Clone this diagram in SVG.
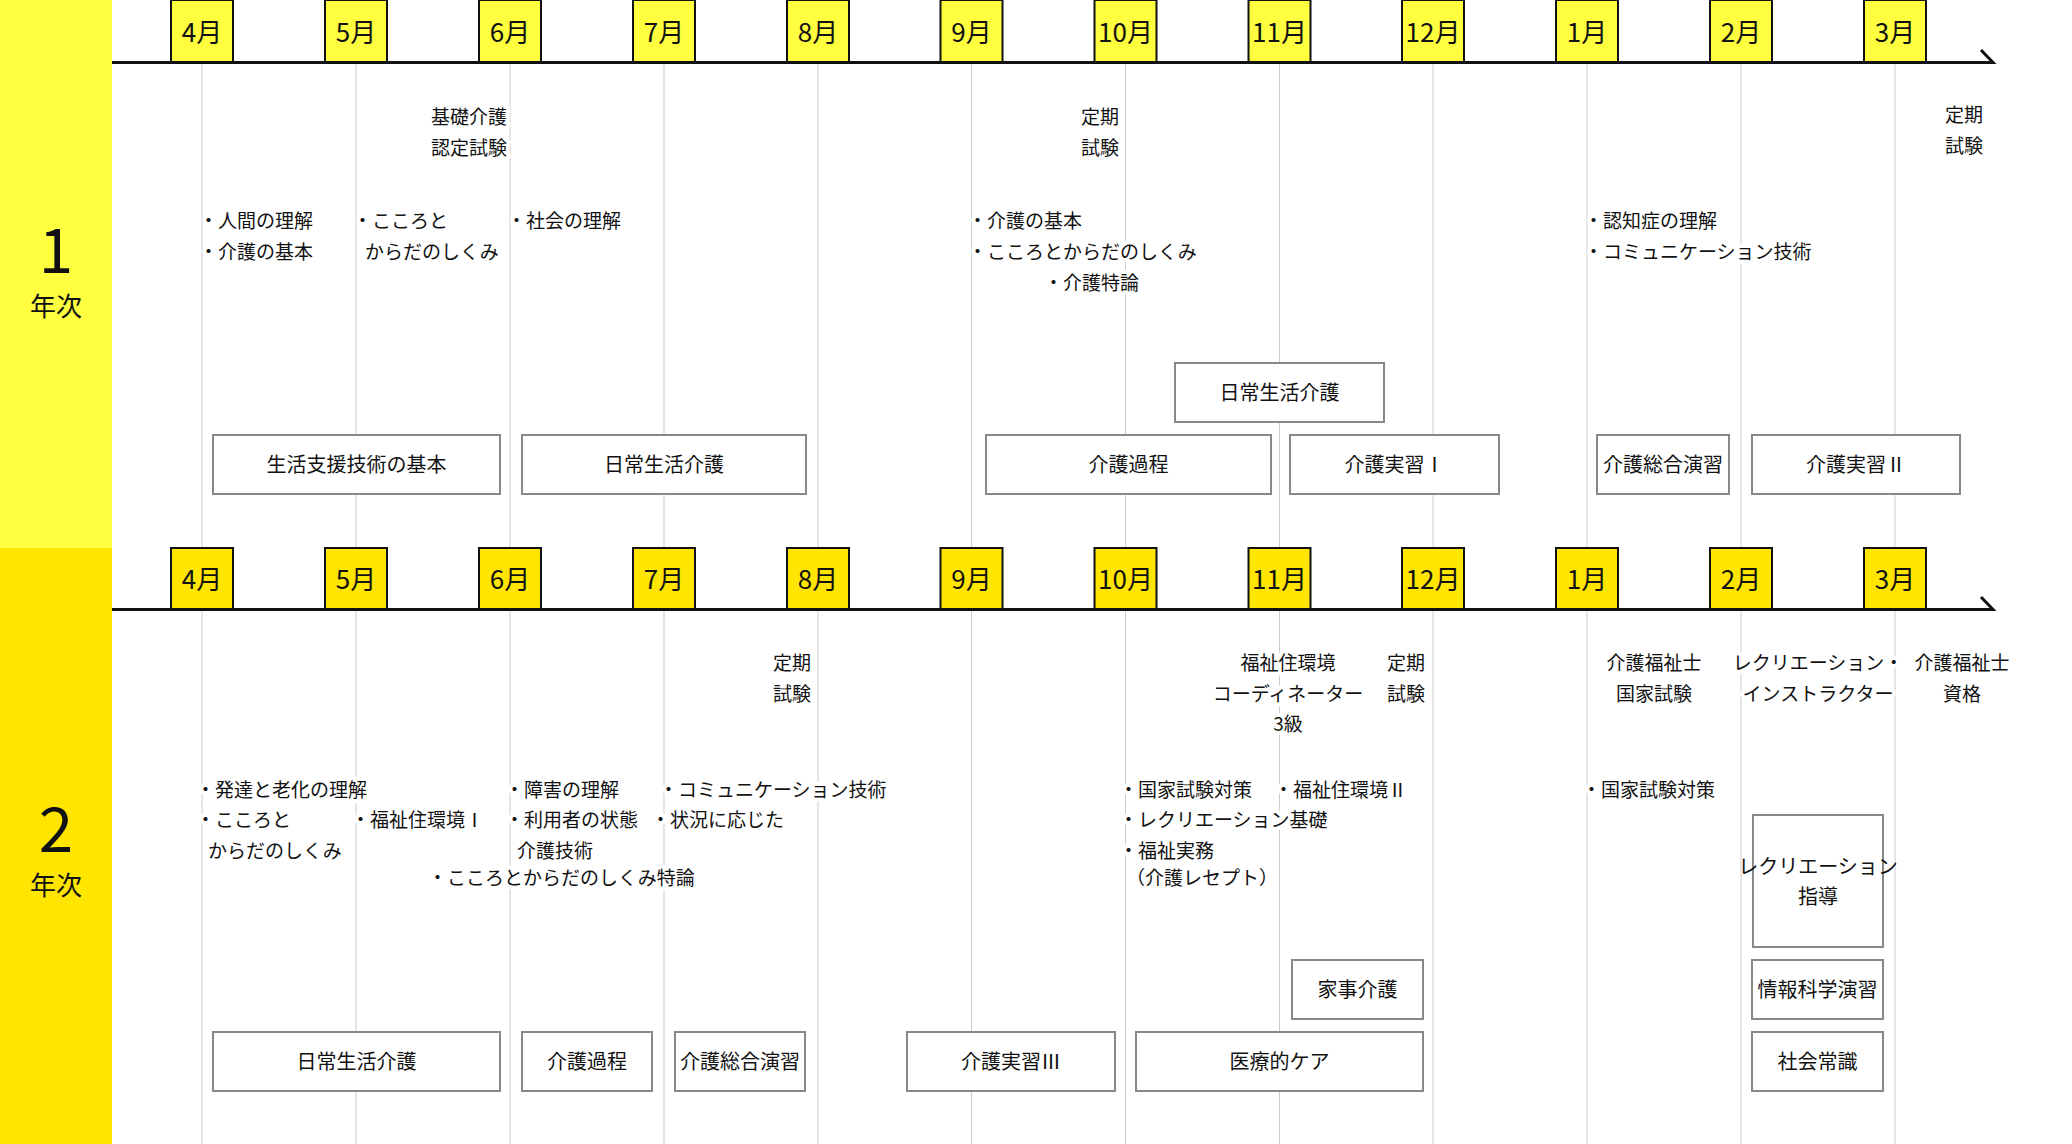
<svg xmlns="http://www.w3.org/2000/svg" width="2072" height="1144" viewBox="0 0 2072 1144">
<style>
text{font-family:"Noto Sans CJK JP","Noto Sans",sans-serif;fill:#111}
.t{font-size:19px;stroke:#fff;stroke-width:8px;paint-order:stroke;stroke-linejoin:round}
.c{text-anchor:middle}
.e{text-anchor:end}
.m{font-size:26px;text-anchor:middle}
.b{fill:#fff;stroke:#888;stroke-width:2}
.bl{font-size:20px;text-anchor:middle;stroke:none}
.v{stroke:#ccc;stroke-width:1}
.mb1{fill:#FFFF40;stroke:#111;stroke-width:2}
.mb2{fill:#FFE500;stroke:#111;stroke-width:2}
.ax{stroke:#111;stroke-width:3;fill:none}
</style>
<rect x="0" y="0" width="2072" height="1144" fill="#fff"/>
<rect x="0" y="0" width="112" height="548" fill="#FFFF40"/>
<rect x="0" y="548" width="112" height="596" fill="#FFE500"/>
<g id="year1-label"><text x="56" y="273" font-size="62" text-anchor="middle">1</text><text x="56" y="316" font-size="26" text-anchor="middle">年次</text></g>
<g id="year2-label"><text x="56" y="852" font-size="62" text-anchor="middle">2</text><text x="56" y="895" font-size="26" text-anchor="middle">年次</text></g>
<g id="connectors">
<g class="v">
<line x1="202" y1="63" x2="202" y2="548"/><line x1="356" y1="63" x2="356" y2="548"/><line x1="510" y1="63" x2="510" y2="548"/><line x1="664" y1="63" x2="664" y2="548"/><line x1="818" y1="63" x2="818" y2="548"/><line x1="971.5" y1="63" x2="971.5" y2="548"/><line x1="1125.5" y1="63" x2="1125.5" y2="548"/><line x1="1279.5" y1="63" x2="1279.5" y2="548"/><line x1="1433" y1="63" x2="1433" y2="548"/><line x1="1587" y1="63" x2="1587" y2="548"/><line x1="1741" y1="63" x2="1741" y2="548"/><line x1="1895" y1="63" x2="1895" y2="548"/>
<line x1="202" y1="610" x2="202" y2="1144"/><line x1="356" y1="610" x2="356" y2="1144"/><line x1="510" y1="610" x2="510" y2="1144"/><line x1="664" y1="610" x2="664" y2="1144"/><line x1="818" y1="610" x2="818" y2="1144"/><line x1="971.5" y1="610" x2="971.5" y2="1144"/><line x1="1125.5" y1="610" x2="1125.5" y2="1144"/><line x1="1279.5" y1="610" x2="1279.5" y2="1144"/><line x1="1433" y1="610" x2="1433" y2="1144"/><line x1="1587" y1="610" x2="1587" y2="1144"/><line x1="1741" y1="610" x2="1741" y2="1144"/><line x1="1895" y1="610" x2="1895" y2="1144"/>
</g>
<path class="ax" d="M112 62.5 H1993 L1981 50"/>
<path class="ax" d="M112 609.5 H1993 L1981 597"/>
</g>
<g id="months1">
<rect class="mb1" x="171" y="0" width="62" height="62"/><text class="m" x="202" y="42">4月</text>
<rect class="mb1" x="325" y="0" width="62" height="62"/><text class="m" x="356" y="42">5月</text>
<rect class="mb1" x="479" y="0" width="62" height="62"/><text class="m" x="510" y="42">6月</text>
<rect class="mb1" x="633" y="0" width="62" height="62"/><text class="m" x="664" y="42">7月</text>
<rect class="mb1" x="787" y="0" width="62" height="62"/><text class="m" x="818" y="42">8月</text>
<rect class="mb1" x="940.5" y="0" width="62" height="62"/><text class="m" x="971.5" y="42">9月</text>
<rect class="mb1" x="1094.5" y="0" width="62" height="62"/><text class="m" x="1125.5" y="42">10月</text>
<rect class="mb1" x="1248.5" y="0" width="62" height="62"/><text class="m" x="1279.5" y="42">11月</text>
<rect class="mb1" x="1402" y="0" width="62" height="62"/><text class="m" x="1433" y="42">12月</text>
<rect class="mb1" x="1556" y="0" width="62" height="62"/><text class="m" x="1587" y="42">1月</text>
<rect class="mb1" x="1710" y="0" width="62" height="62"/><text class="m" x="1741" y="42">2月</text>
<rect class="mb1" x="1864" y="0" width="62" height="62"/><text class="m" x="1895" y="42">3月</text>
</g>
<g id="months2">
<rect class="mb2" x="171" y="548" width="62" height="61"/><text class="m" x="202" y="589">4月</text>
<rect class="mb2" x="325" y="548" width="62" height="61"/><text class="m" x="356" y="589">5月</text>
<rect class="mb2" x="479" y="548" width="62" height="61"/><text class="m" x="510" y="589">6月</text>
<rect class="mb2" x="633" y="548" width="62" height="61"/><text class="m" x="664" y="589">7月</text>
<rect class="mb2" x="787" y="548" width="62" height="61"/><text class="m" x="818" y="589">8月</text>
<rect class="mb2" x="940.5" y="548" width="62" height="61"/><text class="m" x="971.5" y="589">9月</text>
<rect class="mb2" x="1094.5" y="548" width="62" height="61"/><text class="m" x="1125.5" y="589">10月</text>
<rect class="mb2" x="1248.5" y="548" width="62" height="61"/><text class="m" x="1279.5" y="589">11月</text>
<rect class="mb2" x="1402" y="548" width="62" height="61"/><text class="m" x="1433" y="589">12月</text>
<rect class="mb2" x="1556" y="548" width="62" height="61"/><text class="m" x="1587" y="589">1月</text>
<rect class="mb2" x="1710" y="548" width="62" height="61"/><text class="m" x="1741" y="589">2月</text>
<rect class="mb2" x="1864" y="548" width="62" height="61"/><text class="m" x="1895" y="589">3月</text>
</g>
<g id="notes1">
<text class="t e" x="507" y="124">基礎介護</text><text class="t e" x="507" y="155">認定試験</text>
<text class="t" x="199" y="228">・人間の理解</text><text class="t" x="199" y="259">・介護の基本</text>
<text class="t" x="353" y="228">・こころと</text><text class="t" x="365" y="259">からだのしくみ</text>
<text class="t" x="507" y="228">・社会の理解</text>
<text class="t c" x="1100" y="124">定期</text><text class="t c" x="1100" y="155">試験</text>
<text class="t" x="968" y="228">・介護の基本</text><text class="t" x="968" y="259">・こころとからだのしくみ</text><text class="t" x="1044" y="290">・介護特論</text>
<text class="t" x="1584" y="228">・認知症の理解</text><text class="t" x="1584" y="259">・コミュニケーション技術</text>
<text class="t c" x="1964" y="122">定期</text><text class="t c" x="1964" y="153">試験</text>
</g>
<g id="boxes1">
<g id="b1a"><rect class="b" x="213" y="435" width="287" height="59"/><text class="bl" x="356.5" y="472">生活支援技術の基本</text></g>
<g id="b1b"><rect class="b" x="522" y="435" width="284" height="59"/><text class="bl" x="664" y="472">日常生活介護</text></g>
<g id="b1c"><rect class="b" x="986" y="435" width="285" height="59"/><text class="bl" x="1128.5" y="472">介護過程</text></g>
<g id="b1d"><rect class="b" x="1290" y="435" width="209" height="59"/><text class="bl" x="1394.5" y="472">介護実習Ⅰ</text></g>
<g id="b1e"><rect class="b" x="1175" y="363" width="209" height="59"/><text class="bl" x="1279.5" y="400">日常生活介護</text></g>
<g id="b1f"><rect class="b" x="1597" y="435" width="132" height="59"/><text class="bl" x="1663" y="472">介護総合演習</text></g>
<g id="b1g"><rect class="b" x="1752" y="435" width="208" height="59"/><text class="bl" x="1856" y="472">介護実習Ⅱ</text></g>
</g>
<g id="notes2">
<text class="t c" x="792" y="670">定期</text><text class="t c" x="792" y="701">試験</text>
<text class="t" x="196" y="797">・発達と老化の理解</text><text class="t" x="196" y="827">・こころと</text><text class="t" x="208" y="858">からだのしくみ</text>
<text class="t" x="351" y="827">・福祉住環境Ⅰ</text>
<text class="t" x="505" y="797">・障害の理解</text><text class="t" x="505" y="827">・利用者の状態</text><text class="t" x="517" y="858">介護技術</text>
<text class="t" x="659" y="797">・コミュニケーション技術</text><text class="t" x="651" y="827">・状況に応じた</text>
<text class="t" x="428" y="885">・こころとからだのしくみ特論</text>
<text class="t c" x="1288" y="670">福祉住環境</text><text class="t c" x="1288" y="701">コーディネーター</text><text class="t c" x="1288" y="731">3級</text>
<text class="t c" x="1406" y="670">定期</text><text class="t c" x="1406" y="701">試験</text>
<text class="t c" x="1654" y="670">介護福祉士</text><text class="t c" x="1654" y="701">国家試験</text>
<text class="t c" x="1818" y="670">レクリエーション・</text><text class="t c" x="1818" y="701">インストラクター</text>
<text class="t c" x="1962" y="670">介護福祉士</text><text class="t c" x="1962" y="701">資格</text>
<text class="t" x="1119" y="797">・国家試験対策</text><text class="t" x="1119" y="827">・レクリエーション基礎</text><text class="t" x="1119" y="858">・福祉実務</text><text class="t" x="1126" y="885">（介護レセプト）</text>
<text class="t" x="1274" y="797">・福祉住環境Ⅱ</text>
<text class="t" x="1582" y="797">・国家試験対策</text>
</g>
<g id="boxes2">
<g id="b2a"><rect class="b" x="213" y="1032" width="287" height="59"/><text class="bl" x="356.5" y="1069">日常生活介護</text></g>
<g id="b2b"><rect class="b" x="522" y="1032" width="130" height="59"/><text class="bl" x="587" y="1069">介護過程</text></g>
<g id="b2c"><rect class="b" x="675" y="1032" width="130" height="59"/><text class="bl" x="740" y="1069">介護総合演習</text></g>
<g id="b2d"><rect class="b" x="907" y="1032" width="208" height="59"/><text class="bl" x="1011" y="1069">介護実習Ⅲ</text></g>
<g id="b2e"><rect class="b" x="1136" y="1032" width="287" height="59"/><text class="bl" x="1279.5" y="1069">医療的ケア</text></g>
<g id="b2f"><rect class="b" x="1292" y="960" width="131" height="59"/><text class="bl" x="1357.5" y="997">家事介護</text></g>
<g id="b2g"><rect class="b" x="1753" y="815" width="130" height="132"/><text class="bl" x="1818" y="874">レクリエーション</text><text class="bl" x="1818" y="904">指導</text></g>
<g id="b2h"><rect class="b" x="1752" y="960" width="131" height="59"/><text class="bl" x="1817.5" y="997">情報科学演習</text></g>
<g id="b2i"><rect class="b" x="1752" y="1032" width="131" height="59"/><text class="bl" x="1817.5" y="1069">社会常識</text></g>
</g>
</svg>
